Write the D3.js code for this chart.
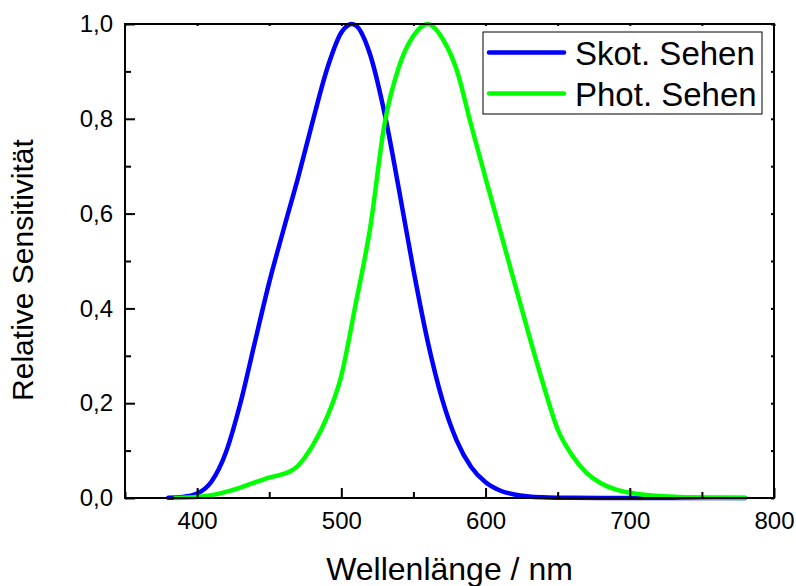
<!DOCTYPE html>
<html>
<head>
<meta charset="utf-8">
<script src="https://cdn.jsdelivr.net/npm/d3@7"></script>
<style>
  html, body { margin: 0; padding: 0; background: #fff; }
  svg { display: block; font-family: "Liberation Sans", Arial, sans-serif; }
</style>
</head>
<body>
<div id="chart"></div>
<script>
// scotopic (blue) curve, wavelength / relative value
const skotWl = [380, 390, 400, 410, 420, 430, 440, 450, 460, 470, 480, 490, 500, 505, 507, 510, 520, 530, 540, 550, 560, 570, 580, 590, 600, 610, 620, 630, 640, 650, 660, 680, 700, 740, 780]
const skotVal = [0.0006, 0.0022, 0.0093, 0.0348, 0.0966, 0.1998, 0.3281, 0.455, 0.567, 0.676, 0.793, 0.904, 0.982, 0.998, 1.0, 0.997, 0.935, 0.811, 0.65, 0.481, 0.3288, 0.2076, 0.1212, 0.0655, 0.0332, 0.0159, 0.0074, 0.0033, 0.0015, 0.0007, 0.0003, 0.0001, 0, 0, 0]

// photopic (green) curve
const photWl = [385, 400, 410, 420, 430, 440, 450, 460, 465, 470, 475, 480, 490, 500, 510, 520, 530, 540, 550, 560, 570, 580, 590, 600, 610, 620, 630, 640, 650, 660, 670, 680, 690, 700, 710, 720, 740, 760, 780]
const photVal = [0, 0.002, 0.006, 0.013, 0.022, 0.033, 0.043, 0.051, 0.057, 0.068, 0.087, 0.11, 0.17, 0.258, 0.41, 0.57, 0.79, 0.91, 0.975, 1.0, 0.97, 0.903, 0.787, 0.675, 0.565, 0.455, 0.345, 0.24, 0.145, 0.09, 0.053, 0.031, 0.018, 0.011, 0.007, 0.004, 0.0015, 0.0005, 0]

const xTicks = [400, 500, 600, 700, 800]
const xMinor = [350, 450, 550, 650, 750]
const yTicks = [0, 0.2, 0.4, 0.6, 0.8, 1.0]
const yMinor = [0.1, 0.3, 0.5, 0.7, 0.9]
const seriesNames = ['Skot. Sehen', 'Phot. Sehen']
const seriesColors = ['#0000ff', '#00ff00']

const width = 796
const height = 586
const margin = { top: 24, right: 22, bottom: 88, left: 125 }
const fmt = d => d3.format('.1f')(d).replace('.', ',')

const x = d3.scaleLinear()
  .domain([350, 800])
  .range([margin.left, width - margin.right])

const y = d3.scaleLinear()
  .domain([0, 1])
  .range([height - margin.bottom, margin.top])

const svg = d3.select('#chart')
  .append('svg')
  .attr('width', width)
  .attr('height', height)
  .attr('viewBox', [0, 0, width, height])

const line = d3.line()
  .x(d => x(d[0]))
  .y(d => y(d[1]))
  .curve(d3.curveMonotoneX)

const series = [
  d3.zip(skotWl, skotVal),
  d3.zip(photWl, photVal)
]

series.forEach((s, i) => {
  svg.append('path')
    .datum(s)
    .attr('fill', 'none')
    .attr('stroke', seriesColors[i])
    .attr('stroke-width', 4.5)
    .attr('stroke-linejoin', 'round')
    .attr('stroke-linecap', 'round')
    .attr('d', line)
})

// axes, ticks pointing inward
const x0 = margin.left
const x1 = width - margin.right
const y0 = height - margin.bottom
const y1 = margin.top

const styleAxis = g => {
  g.select('.domain').remove()
  g.selectAll('line').attr('stroke', '#000').attr('stroke-width', 2)
  g.selectAll('text').attr('fill', '#000').attr('font-size', 24)
}

svg.append('g')
  .attr('transform', `translate(0,${y0})`)
  .call(d3.axisBottom(x).tickValues(xTicks).tickSize(-10).tickPadding(14))
  .call(styleAxis)

svg.append('g')
  .attr('transform', `translate(0,${y0})`)
  .call(d3.axisBottom(x).tickValues(xMinor).tickSize(-6).tickFormat(''))
  .call(styleAxis)

svg.append('g')
  .attr('transform', `translate(${x0},0)`)
  .call(d3.axisLeft(y).tickValues(yTicks).tickSize(-10).tickPadding(12).tickFormat(fmt))
  .call(styleAxis)

svg.append('g')
  .attr('transform', `translate(${x0},0)`)
  .call(d3.axisLeft(y).tickValues(yMinor).tickSize(-6).tickFormat(''))
  .call(styleAxis)

// small ticks on top and right
svg.append('g')
  .attr('transform', `translate(0,${y1})`)
  .call(d3.axisTop(x).tickValues(xTicks.concat(xMinor)).tickSize(-2).tickFormat(''))
  .call(styleAxis)

svg.append('g')
  .attr('transform', `translate(${x1},0)`)
  .call(d3.axisRight(y).tickValues(yTicks.concat(yMinor)).tickSize(-3).tickFormat(''))
  .call(styleAxis)

svg.append('rect')
  .attr('x', x0)
  .attr('y', y1)
  .attr('width', x1 - x0)
  .attr('height', y0 - y1)
  .attr('fill', 'none')
  .attr('stroke', '#000')
  .attr('stroke-width', 2)

// axis titles
svg.append('text')
  .attr('x', (x0 + x1) / 2)
  .attr('y', 580)
  .attr('text-anchor', 'middle')
  .attr('font-size', 32)
  .text('Wellenlänge / nm')

svg.append('text')
  .attr('transform', `translate(33,270) rotate(-90)`)
  .attr('text-anchor', 'middle')
  .attr('font-size', 30)
  .text('Relative Sensitivität')

// legend
const legend = svg.append('g')

legend.append('rect')
  .attr('x', 483)
  .attr('y', 32)
  .attr('width', 279)
  .attr('height', 82)
  .attr('fill', '#fff')
  .attr('stroke', '#000')
  .attr('stroke-width', 1)

seriesNames.forEach((name, i) => {
  const ly = 52.5 + i * 41
  legend.append('line')
    .attr('x1', 489)
    .attr('x2', 564)
    .attr('y1', ly)
    .attr('y2', ly)
    .attr('stroke', seriesColors[i])
    .attr('stroke-width', 4.5)
    .attr('stroke-linecap', 'round')
  legend.append('text')
    .attr('x', 575)
    .attr('y', ly + 12.5)
    .attr('font-size', 33)
    .text(name)
})
</script>
</body>
</html>
